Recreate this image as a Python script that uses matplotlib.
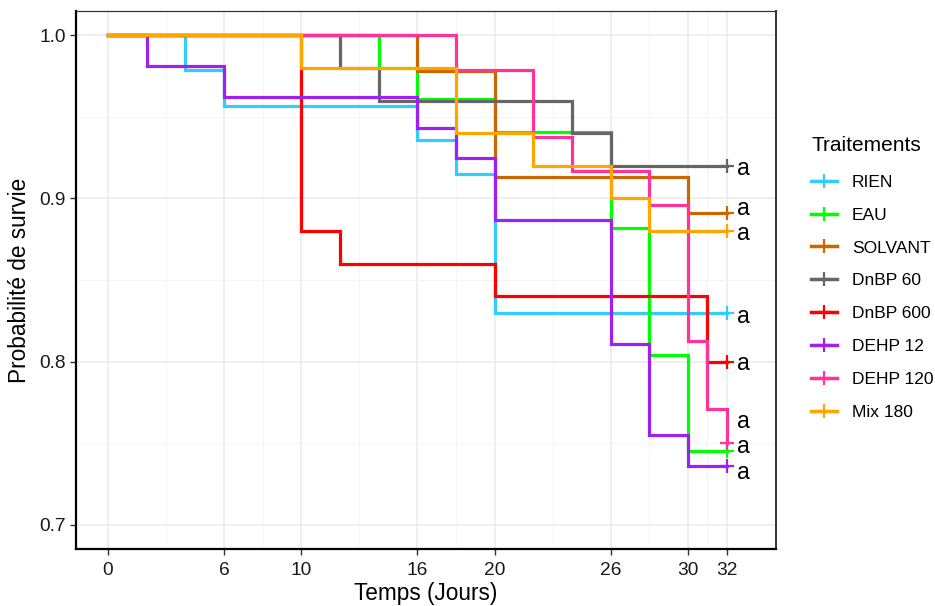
import matplotlib
matplotlib.use("Agg")
import matplotlib.pyplot as plt
from matplotlib.lines import Line2D

plt.rcParams['font.family'] = ['Liberation Sans', 'DejaVu Sans']

# ---------------- data ----------------
groups = ["RIEN", "EAU", "SOLVANT", "DnBP 60", "DnBP 600", "DEHP 12", "DEHP 120", "Mix 180"]
colors = ["#33CCFF", "#00FF00", "#CC6600", "#666666", "#FF0000", "#A020F0", "#FF3399", "#FFA500"]

# step times (days) and survival after each step (starts at 1.0 at day 0)
rien_t = [0, 4, 6, 16, 18, 20]
rien_s = [1.0, 0.979, 0.957, 0.936, 0.915, 0.830]
eau_t = [0, 14, 16, 20, 26, 28, 30]
eau_s = [1.0, 0.980, 0.961, 0.941, 0.882, 0.804, 0.745]
solv_t = [0, 16, 20, 30]
solv_s = [1.0, 0.978, 0.913, 0.891]
dnbp60_t = [0, 12, 14, 24, 26]
dnbp60_s = [1.0, 0.98, 0.96, 0.94, 0.92]
dnbp600_t = [0, 10, 12, 20, 31]
dnbp600_s = [1.0, 0.88, 0.86, 0.84, 0.80]
dehp12_t = [0, 2, 6, 16, 18, 20, 26, 28, 30]
dehp12_s = [1.0, 0.981, 0.962, 0.943, 0.925, 0.887, 0.811, 0.755, 0.736]
dehp120_t = [0, 18, 22, 24, 28, 30, 31, 32]
dehp120_s = [1.0, 0.979, 0.9375, 0.917, 0.896, 0.8125, 0.771, 0.75]
mix_t = [0, 10, 18, 22, 26, 28]
mix_s = [1.0, 0.98, 0.94, 0.92, 0.90, 0.88]

end_time = 32
letters = ["a", "a", "a", "a", "a", "a", "a", "a"]
letter_y = [0.9143, 0.8896, 0.8744, 0.8237, 0.7947, 0.7593, 0.7440, 0.7282]
letter_x = 32.88

x_ticks = [0, 6, 10, 16, 20, 26, 30, 32]
x_minor = [3, 8, 13, 18, 23, 28, 31]
y_ticks = [0.7, 0.8, 0.9, 1.0]
y_minor = [0.75, 0.85, 0.95]

series = [(rien_t, rien_s), (eau_t, eau_s), (solv_t, solv_s), (dnbp60_t, dnbp60_s),
          (dnbp600_t, dnbp600_s), (dehp12_t, dehp12_s), (dehp120_t, dehp120_s), (mix_t, mix_s)]

# ---------------- figure ----------------
W, H = 935, 606
fig = plt.figure(figsize=(W / 100, H / 100), dpi=100)
ax = fig.add_axes([76 / W, 1 - 549 / H, (776 - 76) / W, (549 - 11) / H])

ax.set_xlim(-1.65, 34.55)
ax.set_ylim(0.685, 1.015)

ax.set_xticks(x_ticks)
ax.set_xticks(x_minor, minor=True)
ax.set_yticks(y_ticks)
ax.set_yticks(y_minor, minor=True)
ax.set_yticklabels([f"{v:.1f}" for v in y_ticks])
ax.grid(True, which='major', color='#EBEBEB', lw=1.1, zorder=0)
ax.grid(True, which='minor', color='#F2F2F2', lw=0.6, zorder=0)
ax.set_axisbelow(True)
ax.tick_params(axis='both', which='major', length=4.5, width=1.0, color='#333333',
               labelsize=13.8, labelcolor='#1a1a1a')
ax.tick_params(axis='x', which='major', pad=5)
ax.tick_params(axis='y', which='major', pad=3)
ax.tick_params(axis='both', which='minor', length=0)

for side in ['left', 'bottom']:
    ax.spines[side].set_color('black')
    ax.spines[side].set_linewidth(1.6)
for side in ['top', 'right']:
    ax.spines[side].set_color('#333333')
    ax.spines[side].set_linewidth(0.9)
ax.spines['right'].set_linewidth(1.4)

for (t, s), c in zip(series, colors):
    tt = list(t) + [end_time]
    ss = list(s) + [s[-1]]
    ax.step(tt, ss, where='post', color=c, lw=2.3, solid_joinstyle='miter', zorder=3)
    ax.plot([end_time], [s[-1]], marker='+', color=c, markersize=10, mew=1.6,
            linestyle='none', zorder=3)

for lab, ly in zip(letters, letter_y):
    ax.text(letter_x, ly, lab, ha='center', va='baseline', fontsize=16.5, color='black', zorder=4)

ax.set_xlabel("Temps (Jours)", fontsize=16.3, labelpad=2)
ax.set_ylabel("Probabilité de survie", fontsize=16.3, labelpad=6)

# ---------------- legend ----------------
handles = [Line2D([], [], color=c, lw=2.5, marker='+', markersize=10, mew=1.6) for c in colors]
leg = fig.legend(handles, groups, loc='upper left', bbox_to_anchor=(806 / W, 1 - 131 / H),
                 frameon=False, title="Traitements", fontsize=12.5, title_fontsize=15,
                 handlelength=1.5, handletextpad=0.85, labelspacing=1.02, borderaxespad=0,
                 borderpad=0.3)
leg._legend_box.align = "left"
leg._legend_box.sep = 14

fig.savefig("out.png", dpi=100)
